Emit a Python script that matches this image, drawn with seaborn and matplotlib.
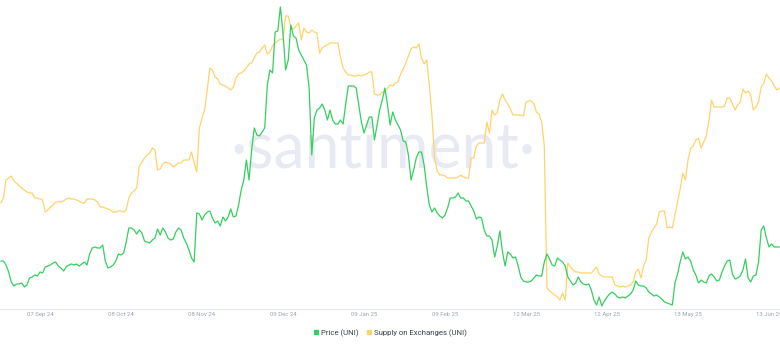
import numpy as np
import pandas as pd
import matplotlib
matplotlib.use("Agg")
import matplotlib.pyplot as plt
from matplotlib.lines import Line2D
import seaborn as sns

# ---- data (daily, from 23 Aug 2024) ----
start_date = "2024-08-23"

price = [
    6.95, 6.95, 6.75, 6.40, 5.90, 5.70, 5.80, 5.80, 5.85, 5.65,
    5.75, 6.10, 6.15, 6.25, 6.20, 6.40, 6.35, 6.65, 6.70, 6.75,
    6.85, 6.90, 6.70, 6.60, 6.45, 6.65, 6.75, 6.80, 6.75, 6.80,
    6.70, 6.80, 6.90, 6.75, 7.30, 7.60, 7.65, 7.60, 7.60, 7.75,
    6.95, 6.60, 6.65, 6.75, 6.95, 7.30, 7.25, 7.35, 7.90, 8.60,
    8.60, 8.50, 8.30, 8.50, 8.35, 7.95, 7.90, 7.85, 8.00, 8.10,
    8.55, 8.25, 8.60, 8.40, 8.10, 8.00, 8.05, 8.40, 8.60, 8.50,
    8.10, 7.85, 7.50, 7.10, 6.90, 9.35, 9.30, 9.00, 9.25, 9.40,
    9.45, 9.10, 8.85, 8.95, 8.70, 9.15, 8.95, 9.15, 9.55, 9.15,
    9.20, 9.75, 10.50, 11.00, 12.00, 11.00, 12.50, 13.60, 13.25, 13.20,
    13.40, 13.60, 15.75, 16.50, 16.35, 18.40, 18.45, 19.65, 18.35, 16.50,
    17.00, 18.75, 18.20, 18.10, 17.50, 17.25, 17.00, 16.75, 15.60, 12.25,
    14.10, 14.50, 14.60, 14.80, 14.50, 14.00, 14.50, 14.00, 13.80, 13.80,
    14.00, 13.80, 14.80, 15.70, 15.70, 15.70, 15.60, 14.75, 13.90, 13.35,
    13.75, 14.15, 14.15, 13.00, 13.75, 14.50, 15.00, 15.60, 14.75, 13.75,
    14.40, 14.00, 13.75, 13.50, 12.95, 12.90, 12.25, 11.00, 11.50, 12.10,
    12.40, 12.40, 11.75, 10.65, 9.75, 9.40, 9.60, 9.35, 9.20, 9.10,
    9.25, 9.60, 10.10, 10.10, 10.15, 10.35, 10.10, 10.10, 9.95, 9.95,
    9.70, 9.45, 9.05, 9.15, 9.10, 8.50, 8.20, 8.20, 8.00, 7.15,
    7.70, 8.45, 7.40, 6.70, 7.40, 7.30, 7.10, 7.15, 6.70, 6.15,
    5.95, 5.90, 5.90, 5.95, 6.10, 6.25, 6.20, 6.20, 6.90, 7.30,
    7.05, 6.75, 6.70, 7.10, 7.00, 6.90, 6.70, 6.15, 5.95, 5.75,
    5.85, 6.15, 5.90, 5.80, 5.75, 5.80, 5.50, 5.00, 4.75, 5.15,
    4.70, 4.95, 5.15, 5.30, 5.40, 5.30, 5.15, 5.10, 5.15, 5.10,
    5.20, 5.30, 5.50, 5.95, 5.75, 5.70, 5.70, 5.60, 5.40, 5.30,
    5.20, 5.25, 5.15, 5.05, 4.90, 4.85, 4.80, 4.75, 5.85, 6.30,
    6.90, 7.40, 7.05, 7.15, 6.95, 6.50, 6.25, 5.85, 6.00, 5.90,
    5.85, 6.20, 6.30, 6.15, 5.95, 6.00, 6.40, 6.70, 6.95, 7.00,
    6.30, 6.05, 6.10, 6.20, 6.50, 7.05, 6.10, 5.90, 6.20, 6.25,
    6.90, 8.50, 8.70, 8.10, 7.65, 7.80, 7.65, 7.65, 7.65,
]

supply = [
    89.85, 90.10, 91.00, 91.10, 91.20, 90.95, 90.85, 90.70, 90.60, 90.50,
    90.40, 90.35, 90.35, 90.10, 90.10, 90.05, 90.00, 89.40, 89.50, 89.65,
    89.75, 89.90, 89.90, 89.90, 89.95, 90.05, 90.10, 90.05, 90.05, 90.00,
    89.95, 89.85, 89.85, 90.05, 90.05, 90.05, 90.00, 89.90, 89.65, 89.65,
    89.60, 89.55, 89.50, 89.40, 89.40, 89.45, 89.45, 89.40, 89.50, 90.10,
    90.35, 90.45, 90.60, 91.70, 91.90, 92.10, 92.25, 92.35, 92.60, 92.50,
    91.50, 91.55, 91.80, 91.90, 91.85, 91.80, 91.65, 91.75, 91.85, 91.85,
    92.00, 92.00, 92.00, 92.40, 91.85, 91.40, 93.60, 94.10, 94.50, 95.50,
    96.60, 96.50, 96.15, 96.05, 95.80, 95.75, 95.70, 95.60, 95.50, 95.65,
    96.10, 96.30, 96.35, 96.45, 96.60, 96.80, 96.85, 97.10, 97.35, 97.40,
    97.60, 97.75, 97.30, 97.40, 97.70, 97.85, 97.95, 98.05, 98.00, 99.20,
    99.20, 98.65, 98.55, 98.70, 98.85, 98.00, 98.60, 98.40, 98.35, 98.50,
    98.40, 98.35, 97.35, 97.60, 97.70, 97.75, 97.85, 97.85, 97.85, 97.85,
    97.15, 96.60, 96.40, 96.25, 96.25, 96.20, 96.20, 96.25, 96.20, 96.25,
    96.30, 96.40, 96.40, 95.30, 95.25, 95.25, 95.40, 95.40, 95.60, 95.75,
    95.70, 95.85, 95.90, 96.30, 96.55, 96.85, 97.20, 97.55, 97.65, 97.60,
    97.80, 97.10, 96.80, 97.00, 95.75, 94.25, 92.10, 91.45, 91.25, 91.25,
    91.20, 91.10, 91.10, 91.10, 91.10, 91.15, 91.25, 91.15, 91.10, 91.10,
    92.10, 92.10, 92.70, 92.85, 92.85, 92.85, 93.90, 93.35, 94.50, 94.25,
    94.35, 95.00, 95.30, 95.00, 94.80, 94.55, 94.25, 94.25, 94.25, 94.25,
    94.20, 94.90, 94.95, 94.95, 94.80, 94.40, 94.30, 93.90, 92.70, 85.60,
    85.45, 85.35, 85.25, 85.15, 85.00, 85.35, 85.00, 86.85, 86.65, 86.50,
    86.40, 86.40, 86.35, 86.35, 86.35, 86.35, 86.35, 86.50, 86.65, 86.30,
    86.20, 86.15, 86.15, 86.15, 86.15, 85.75, 85.70, 85.65, 85.70, 85.65,
    85.70, 85.75, 85.90, 86.40, 86.55, 86.10, 86.70, 87.00, 88.10, 88.40,
    88.60, 88.80, 89.40, 89.45, 89.45, 88.60, 88.65, 88.60, 89.25, 89.90,
    90.55, 91.35, 91.00, 92.00, 92.60, 92.70, 93.00, 93.10, 92.60, 92.90,
    93.20, 93.95, 95.00, 94.65, 94.65, 94.65, 94.65, 94.70, 95.10, 95.10,
    94.80, 94.50, 94.75, 94.90, 95.55, 95.35, 95.45, 95.25, 94.50, 94.65,
    94.90, 95.65, 95.85, 96.30, 96.10, 95.95, 95.70, 95.50, 95.60,
]

tick_dates = ["2024-09-07", "2024-10-08", "2024-11-08", "2024-12-09", "2025-01-09",
              "2025-02-09", "2025-03-12", "2025-04-12", "2025-05-13", "2025-06-13"]
tick_labels = ["07 Sep 24", "08 Oct 24", "08 Nov 24", "09 Dec 24", "09 Jan 25",
               "09 Feb 25", "12 Mar 25", "12 Apr 25", "13 May 25", "13 Jun 25"]

series_names = ["Price (UNI)", "Supply on Exchanges (UNI)"]

GREEN = "#34cf5e"
YELLOW = "#ffd36b"

# ---- figure ----
sns.set_style("white")
plt.rcParams["font.family"] = ["Roboto", "DejaVu Sans"]

df = pd.DataFrame({
    "date": pd.date_range(start_date, periods=len(price), freq="D"),
    "price": price,
    "supply": supply,
})

fig = plt.figure(figsize=(7.8, 3.47), dpi=100)
ax = fig.add_axes([0, 38 / 347, 1, 309 / 347])
ax2 = ax.twinx()

sns.lineplot(data=df, x="date", y="supply", ax=ax, color=YELLOW, lw=0.9)
sns.lineplot(data=df, x="date", y="price", ax=ax2, color=GREEN, lw=0.9)

ax.set_ylim(84.55, 100)
ax2.set_ylim(4.55, 20)

x0 = pd.Timestamp(start_date) - pd.Timedelta(hours=7.3)
x1 = x0 + pd.Timedelta(days=780 / 2.613)
ax.set_xlim(x0, x1)

for a in (ax, ax2):
    a.set_yticks([])
    a.set_ylabel("")
    a.set_xlabel("")
    for s in a.spines.values():
        s.set_visible(False)
ax.spines["bottom"].set_visible(True)
ax.spines["bottom"].set_color("#e6e9ef")
ax.spines["bottom"].set_linewidth(0.8)

ax.set_xticks(pd.to_datetime(tick_dates))
ax.set_xticklabels(tick_labels, fontsize=4.3, color="#9aa3b4")
ax.tick_params(axis="x", length=0, pad=2.5)

ax.text(0.491, 1 - 150 / 309, "·santiment·", transform=ax.transAxes,
        ha="center", va="center", fontsize=45, color="#e8eaf3",
        family=["Lato", "DejaVu Sans"], fontweight="normal", zorder=0)

handles = [Line2D([], [], marker="s", ls="", color=GREEN, markersize=3.5),
           Line2D([], [], marker="s", ls="", color=YELLOW, markersize=3.5)]
leg = fig.legend(handles, series_names, loc="center",
                 bbox_to_anchor=(0.5, 1 - 333 / 347), ncol=2, frameon=False,
                 fontsize=5.6, handletextpad=0.2, columnspacing=1.0,
                 handlelength=0.8)
for t in leg.get_texts():
    t.set_color("#3a3f4a")

fig.savefig("out.png", dpi=100)
